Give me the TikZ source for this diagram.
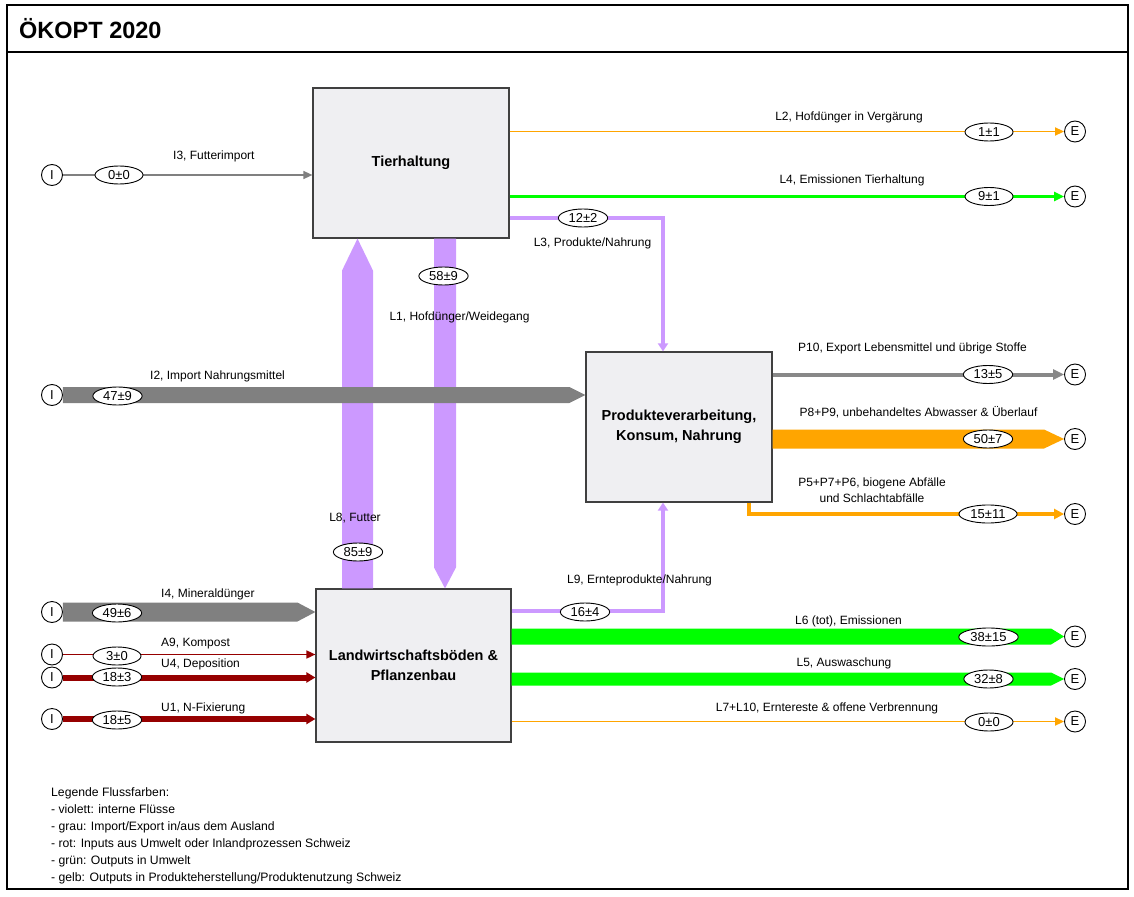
\documentclass[tikz,border=0pt]{standalone}
\usepackage{fontspec}
\setmainfont{Liberation Sans}
\usetikzlibrary{arrows.meta,calc,shapes.geometric}

\definecolor{flowviolet}{RGB}{204,153,255}
\definecolor{flowgray}{RGB}{128,128,128}
\definecolor{flowgraylt}{RGB}{136,136,136}
\definecolor{floworange}{RGB}{255,165,0}
\definecolor{flowgreen}{RGB}{0,255,0}
\definecolor{flowred}{RGB}{150,0,0}
\definecolor{boxfill}{RGB}{239,239,242}
\definecolor{boxline}{RGB}{64,64,64}

% wide flow band with a pointed end: colour, from, to, half width, head length
\newcommand\flowband[5]{%
  \path ($(#3)!#5!(#2)$) coordinate (fbhead);
  \fill[#1] ($(#2)!#4!90:(#3)$) -- ($(fbhead)!#4!90:(#3)$) -- (#3)
    -- ($(fbhead)!#4!-90:(#3)$) -- ($(#2)!#4!-90:(#3)$) -- cycle;}

\tikzset{
  proc/.style={draw=boxline, line width=1.2pt, fill=boxfill, align=center,
    inner sep=0pt, font=\fontsize{14.5}{19.5}\selectfont\bfseries},
  term/.style={circle, draw=black, line width=0.9pt, fill=white,
    minimum size=21pt, inner sep=0pt, font=\fontsize{13}{14}\selectfont},
  val/.style={ellipse, draw=black, line width=0.9pt, fill=white,
    minimum width=48pt, minimum height=18pt, inner xsep=3pt, inner ysep=0pt,
    font=\fontsize{13}{14}\selectfont},
  lbl/.style={inner sep=0pt, font=\fontsize{12}{14}\selectfont},
  thinflow/.style={line width=1.8pt, -{Triangle[length=9pt,width=8pt]}},
  midflow/.style={line width=3pt, line join=miter, -{Triangle[length=10pt,width=9pt]}},
  redflow/.style={line width=6pt, -{Triangle[length=9pt,width=10pt]}},
}

\begin{document}
\begin{tikzpicture}[x=1pt,y=-1pt]
\path[use as bounding box] (0,0) rectangle (1134,896);

% frame and title
\draw[line width=2pt] (7,5) rectangle (1128,889);
\draw[line width=2pt] (7,52) -- (1128,52);
\node[anchor=base west, inner sep=0pt, font=\fontsize{23.5}{26}\selectfont\bfseries]
  (title) at (19,39) {ÖKOPT 2020};

% processes
\node[proc, minimum width=196pt, minimum height=150pt] (tier) at (411,163) {Tierhaltung};
\node[proc, minimum width=186pt, minimum height=150pt] (prod) at (679,427)
  {Produkteverarbeitung,\\Konsum, Nahrung};
\node[proc, minimum width=195pt, minimum height=153pt] (land) at (413.5,665.5)
  {Landwirtschaftsböden \&\\Pflanzenbau};

% import terminals
\node[term] (iI3) at (52,175) {I};
\node[term] (iI2) at (52,395) {I};
\node[term] (iI4) at (52,612) {I};
\node[term] (iA9) at (52,654.5) {I};
\node[term] (iU4) at (52,677.5) {I};
\node[term] (iU1) at (52,719) {I};

% export terminals
\node[term] (eL2) at (1075,131.5) {E};
\node[term] (eL4) at (1075,196.5) {E};
\node[term] (eP10) at (1075,374.5) {E};
\node[term] (eP8) at (1075,439) {E};
\node[term] (eP5) at (1075,514) {E};
\node[term] (eL6) at (1075,636.5) {E};
\node[term] (eL5) at (1075,679) {E};
\node[term] (eL7) at (1075,721.5) {E};

% internal flows
\coordinate (l8x) at (357.5,400);
\coordinate (l8s) at (l8x |- land.north);
\coordinate (l8e) at (l8x |- tier.south);
\flowband{flowviolet}{l8s}{l8e}{15.5pt}{32pt}
\coordinate (l1x) at (445,400);
\coordinate (l1s) at (l1x |- tier.south);
\coordinate (l1e) at (l1x |- land.north);
\flowband{flowviolet}{l1s}{l1e}{11pt}{21pt}

\coordinate (l3c) at (663,218);
\draw[flowviolet, line width=4pt, line join=miter, -{Triangle[length=8pt,width=10pt]}]
  (tier.east |- l3c) -- (l3c) -- (l3c |- prod.north);
\coordinate (l9c) at (663,611);
\draw[flowviolet, line width=4pt, line join=miter, -{Triangle[length=8pt,width=10pt]}]
  (land.east |- l9c) -- (l9c) -- (l9c |- prod.south);

% imports
\draw[flowgray, line width=1.4pt, -{Triangle[length=9pt,width=8pt]}] (iI3) -- (tier.west |- iI3);
\coordinate (i2e) at (prod.west |- iI2);
\flowband{flowgray}{iI2.east}{i2e}{8pt}{16pt}
\coordinate (i4e) at (land.west |- iI4);
\flowband{flowgray}{iI4.east}{i4e}{9.5pt}{18pt}
\draw[flowred, line width=1.6pt, -{Triangle[length=9pt,width=8pt]}] (iA9) -- (land.west |- iA9);
\draw[flowred, redflow] (iU4) -- (land.west |- iU4);
\draw[flowred, redflow] (iU1) -- (land.west |- iU1);

% outputs of Tierhaltung
\draw[floworange, thinflow] (tier.east |- eL2) -- (eL2);
\draw[flowgreen, midflow] (tier.east |- eL4) -- (eL4);

% outputs of Produkteverarbeitung
\draw[flowgraylt, line width=4pt, -{Triangle[length=11pt,width=10pt]}] (prod.east |- eP10) -- (eP10);
\coordinate (p8s) at (prod.east |- eP8);
\flowband{floworange}{p8s}{eP8.west}{9.5pt}{20pt}
\coordinate (p5c) at (749,0 |- eP5);
\draw[floworange, line width=4pt, line join=miter, -{Triangle[length=10pt,width=10pt]}]
  (p5c |- prod.south) -- (p5c) -- (eP5);

% outputs of Landwirtschaftsböden
\coordinate (l6s) at (land.east |- eL6);
\flowband{flowgreen}{l6s}{eL6.west}{8pt}{13pt}
\coordinate (l5s) at (land.east |- eL5);
\flowband{flowgreen}{l5s}{eL5.west}{6.5pt}{13pt}
\draw[floworange, thinflow] (land.east |- eL7) -- (eL7);

% flow values
\node[val] (vI3) at (119,175) {0±0};
\node[val] (vI2) at (117.5,396) {47±9};
\node[val] (vI4) at (117,613) {49±6};
\node[val] (vA9) at (117,656) {3±0};
\node[val] (vU4) at (117,677) {18±3};
\node[val] (vU1) at (117,720) {18±5};
\node[val] (vL3) at (583,218) {12±2};
\node[val] (vL1) at (443.5,276) {58±9};
\node[val] (vL8) at (358,552) {85±9};
\node[val] (vL9) at (585,612) {16±4};
\node[val] (vL2) at (989,132) {1±1};
\node[val] (vL4) at (989,196.5) {9±1};
\node[val] (vP10) at (988,374.5) {13±5};
\node[val] (vP8) at (988,439) {50±7};
\node[val] (vP5) at (988,514) {15±11};
\node[val] (vL6) at (988.5,637) {38±15};
\node[val] (vL5) at (988.5,679) {32±8};
\node[val] (vL7) at (989,722) {0±0};

% flow labels
\node[lbl, anchor=west] (tI3) at (173,156) {I3, Futterimport};
\node[lbl, anchor=west] (tI2) at (150,376) {I2, Import Nahrungsmittel};
\node[lbl, anchor=west] (tI4) at (161,594) {I4, Mineraldünger};
\node[lbl, anchor=west] (tA9) at (161,644) {A9, Kompost};
\node[lbl, anchor=west] (tU4) at (161,664) {U4, Deposition};
\node[lbl, anchor=west] (tU1) at (161,708) {U1, N-Fixierung};
\node[lbl] (tL3) at (592.5,243) {L3, Produkte/Nahrung};
\node[lbl] (tL1) at (459.5,317) {L1, Hofdünger/Weidegang};
\node[lbl] (tL8) at (355,518) {L8, Futter};
\node[lbl] (tL9) at (639.5,580) {L9, Ernteprodukte/Nahrung};
\node[lbl] (tL2) at (849,117) {L2, Hofdünger in Vergärung};
\node[lbl] (tL4) at (852,180) {L4, Emissionen Tierhaltung};
\node[lbl] (tP10) at (912.5,348) {P10, Export Lebensmittel und übrige Stoffe};
\node[lbl] (tP8) at (918.5,412) {P8+P9, unbehandeltes Abwasser \& Überlauf};
\node[lbl, align=center, font=\fontsize{12}{16}\selectfont] (tP5) at (872,490)
  {P5+P7+P6, biogene Abfälle\\und Schlachtabfälle};
\node[lbl] (tL6) at (848.5,621) {L6 (tot), Emissionen};
\node[lbl] (tL5) at (844,663) {L5, Auswaschung};
\node[lbl] (tL7) at (827,708) {L7+L10, Erntereste \& offene Verbrennung};

% legend
\node[anchor=north west, align=left, inner sep=0pt, font=\fontsize{12.2}{17}\selectfont]
  (legend) at (51,787) {Legende Flussfarben:\\
  - violett: interne Flüsse\\
  - grau: Import/Export in/aus dem Ausland\\
  - rot: Inputs aus Umwelt oder Inlandprozessen Schweiz\\
  - grün: Outputs in Umwelt\\
  - gelb: Outputs in Produkteherstellung/Produktenutzung Schweiz};
\end{tikzpicture}
\end{document}
